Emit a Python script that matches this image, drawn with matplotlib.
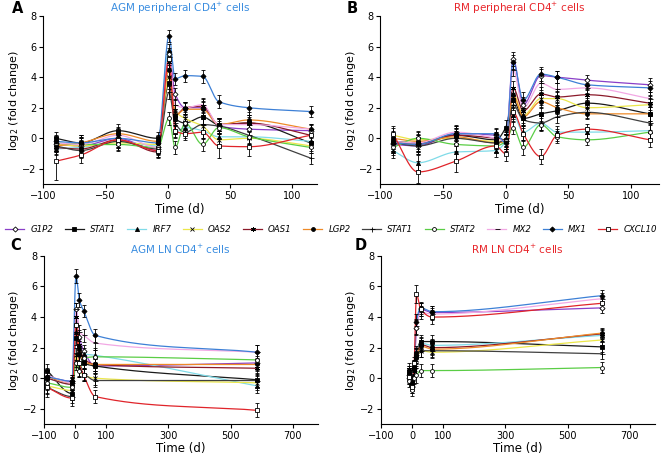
import numpy as np
import matplotlib
matplotlib.use("Agg")
import matplotlib.pyplot as plt
from matplotlib.lines import Line2D

# genes in legend order
genes = ["G1P2", "STAT1", "IRF7", "OAS2", "OAS1", "LGP2", "STAT1", "STAT2", "MX2", "MX1", "CXCL10"]

# panel A: AGM peripheral CD4+ cells
tA = [-90, -70, -40, -8, 1, 6, 14, 28, 41, 65, 115]
A_G1P2 = [-0.4, -0.5, 0.0, -0.8, 5.5, 2.9, 2.0, 2.0, 0.8, 0.6, 0.5]
A_STAT1 = [0.0, -0.3, 0.5, 0.0, 3.6, 1.3, 1.0, 1.4, 0.9, 1.0, -0.3]
A_IRF7 = [-0.7, -0.6, -0.2, -0.5, 5.8, 0.4, 0.7, 0.5, 0.1, 0.1, -0.2]
A_OAS2 = [-0.4, -0.5, -0.3, -0.4, 4.0, 1.8, 1.3, 0.8, -0.1, 0.0, -0.5]
A_OAS1 = [-0.6, -0.7, -0.1, -0.9, 5.0, 1.5, 2.0, 2.1, 0.9, 1.0, 0.2]
A_LGP2 = [-0.5, -0.3, 0.3, -0.2, 4.5, 1.5, 1.9, 1.9, 0.9, 1.2, 0.6]
A_STAT1b = [-0.5, -0.8, -0.2, -0.7, 3.0, 1.0, 0.4, 0.9, 0.8, 0.2, -1.3]
A_STAT2 = [-0.3, -0.4, -0.4, -0.6, 1.3, -0.6, 1.0, -0.4, 0.7, 0.1, -0.6]
A_MX2 = [-0.3, -0.4, 0.2, -0.6, 5.3, 2.2, 2.0, 2.2, 0.9, 0.9, 0.6]
A_MX1 = [-0.2, -0.3, 0.0, -0.3, 6.7, 3.9, 4.1, 4.05, 2.4, 2.0, 1.75]
A_CXCL10 = [-1.5, -1.1, -0.1, -0.8, 5.2, 0.5, 0.3, 0.4, -0.5, -0.55, 0.2]
A_err = [0.4, 0.5, 0.45, 0.4, 0.4, 0.4, 0.4, 0.45, 0.45, 0.5, 0.35]
A_err_CXCL10 = [1.2, 0.5, 0.45, 0.4, 0.4, 0.4, 0.4, 0.45, 0.8, 0.6, 0.35]

# panel B: RM peripheral CD4+ cells
tB = [-90, -70, -40, -8, 0, 6, 14, 28, 41, 65, 115]
B_G1P2 = [-0.4, -0.5, 0.3, 0.2, -0.2, 5.2, 2.2, 4.1, 4.0, 3.8, 3.5]
B_STAT1 = [-0.2, -0.3, 0.2, -0.1, 0.7, 2.5, 1.3, 1.6, 1.8, 2.3, 1.6]
B_IRF7 = [-0.8, -1.6, -0.9, -0.8, -0.2, 1.5, 0.4, 1.0, 0.4, 0.4, 0.5]
B_OAS2 = [0.2, -0.1, 0.0, -0.2, -0.1, 2.9, 1.5, 2.6, 2.6, 2.0, 2.2]
B_OAS1 = [-0.3, -0.4, 0.2, 0.0, -0.1, 3.3, 1.8, 2.9, 2.7, 2.85, 2.3]
B_LGP2 = [0.0, -0.2, 0.1, -0.3, -0.2, 2.8, 1.4, 2.4, 2.0, 1.6, 1.6]
B_STAT1b = [-0.3, -0.5, 0.0, -0.3, 0.0, 2.2, 1.2, 1.0, 1.4, 1.7, 1.0]
B_STAT2 = [-0.6, 0.0, -0.4, -0.5, -0.2, 0.7, -0.6, 0.9, 0.1, -0.1, 0.4]
B_MX2 = [-0.2, -0.3, 0.4, 0.0, -0.2, 4.5, 2.0, 3.6, 3.2, 3.3, 2.6]
B_MX1 = [-0.3, -0.4, 0.3, 0.3, -0.3, 5.0, 2.5, 4.2, 4.0, 3.5, 3.3]
B_CXCL10 = [0.3, -2.2, -1.5, -0.5, -1.0, 1.7, 0.3, -1.2, 0.2, 0.6, -0.1]
B_err = [0.5, 0.5, 0.5, 0.4, 0.5, 0.45, 0.5, 0.45, 0.4, 0.35, 0.45]
B_err_CXCL10 = [0.5, 0.7, 0.7, 0.4, 0.5, 0.45, 0.5, 0.5, 0.4, 0.35, 0.45]

# panel C: AGM LN CD4+ cells
tC = [-90, -10, 3, 14, 28, 65, 585]
C_G1P2 = [0.1, -0.2, 4.5, 2.7, 1.8, 0.8, 1.0]
C_STAT1 = [0.5, -1.0, 2.6, 1.6, 1.0, 0.8, -0.1]
C_IRF7 = [0.0, -0.4, 3.0, 2.0, 1.6, 1.5, -0.5]
C_OAS2 = [-0.5, -0.8, 1.5, 0.6, 0.2, 0.0, -0.3]
C_OAS1 = [0.0, -0.4, 4.0, 2.2, 1.3, 0.9, 0.65]
C_LGP2 = [0.1, -0.3, 3.5, 2.0, 1.1, 0.9, 0.9]
C_STAT1b = [-0.6, -1.2, 1.2, 0.5, 0.3, -0.15, -0.15]
C_STAT2 = [-0.3, -0.6, 1.0, 0.5, 1.3, 1.4, 1.2]
C_MX2 = [0.2, -0.3, 4.5, 3.0, 2.8, 2.3, 1.7]
C_MX1 = [0.1, -0.2, 6.7, 5.1, 4.4, 2.8, 1.7]
C_CXCL10 = [-0.6, -1.3, 3.5, 1.0, 0.2, -1.2, -2.1]
C_err = [0.45, 0.4, 0.45, 0.45, 0.4, 0.45, 0.45]
C_err_CXCL10 = [0.6, 0.5, 0.45, 0.45, 0.4, 0.45, 0.45]

# panel D: RM LN CD4+ cells
tD = [-10, 0, 7, 14, 28, 65, 610]
D_G1P2 = [0.0, -0.5, 0.6, 3.3, 4.5, 4.3, 4.6]
D_STAT1 = [0.4, -0.2, 0.6, 1.6, 2.4, 2.4, 2.05]
D_IRF7 = [0.2, -0.4, 0.8, 1.5, 2.3, 2.15, 2.8]
D_OAS2 = [0.4, -0.5, 0.5, 1.2, 1.8, 1.7, 2.5]
D_OAS1 = [0.6, -0.3, 0.7, 1.4, 2.2, 2.0, 2.9]
D_LGP2 = [0.3, -0.4, 0.6, 1.3, 2.1, 1.9, 2.95]
D_STAT1b = [0.0, -0.6, 0.5, 1.5, 1.8, 1.8, 1.6]
D_STAT2 = [-0.2, -0.8, 0.0, 0.2, 0.5, 0.5, 0.7]
D_MX2 = [0.3, -0.2, 0.7, 3.4, 4.3, 4.2, 5.2]
D_MX1 = [0.2, -0.3, 0.8, 3.7, 4.6, 4.35, 5.4]
D_CXCL10 = [0.1, -0.6, 1.0, 5.5, 4.5, 4.0, 4.9]
D_err = [0.4, 0.35, 0.4, 0.5, 0.4, 0.4, 0.35]
D_err_CXCL10 = [0.4, 0.35, 0.4, 0.6, 0.4, 0.45, 0.35]

colors = ["#8a3fc8", "#1a1a1a", "#80dbe8", "#ece74a", "#8b1a2a", "#ee8a28",
          "#404040", "#5acd45", "#f2a8e4", "#3d80d6", "#e0242a"]
markers = ["D", "s", "^", "x", (6, 2, 0), "o", "+", "o", "_", "D", "s"]
open_mk = [True, False, False, False, False, False, False, True, False, False, True]
msizes = [2.6, 3.0, 3.0, 3.0, 3.6, 2.8, 3.6, 2.8, 3.6, 2.6, 3.0]


def pchip(x, y, n=400):
    # monotone cubic hermite, keeps the curves smooth without big overshoot
    x = np.asarray(x, float)
    y = np.asarray(y, float)
    h = np.diff(x)
    d = np.diff(y) / h
    m = np.zeros_like(y)
    for k in range(1, len(x) - 1):
        if d[k - 1] * d[k] > 0:
            w1 = 2 * h[k] + h[k - 1]
            w2 = h[k] + 2 * h[k - 1]
            m[k] = (w1 + w2) / (w1 / d[k - 1] + w2 / d[k])
    m[0] = d[0]
    m[-1] = d[-1]
    xs = np.linspace(x[0], x[-1], n)
    idx = np.clip(np.searchsorted(x, xs) - 1, 0, len(x) - 2)
    tt = (xs - x[idx]) / h[idx]
    h00 = 2 * tt**3 - 3 * tt**2 + 1
    h10 = tt**3 - 2 * tt**2 + tt
    h01 = -2 * tt**3 + 3 * tt**2
    h11 = tt**3 - tt**2
    ys = h00 * y[idx] + h10 * h[idx] * m[idx] + h01 * y[idx + 1] + h11 * h[idx] * m[idx + 1]
    return xs, ys


def draw_panel(ax, t, series, err, err_red, title, tcolor, xlim, xticks):
    for i, vals in enumerate(series):
        xs, ys = pchip(t, vals)
        ax.plot(xs, ys, color=colors[i], lw=0.9, zorder=2 + i * 0.01)
    for i, vals in enumerate(series):
        e = err_red if genes[i] == "CXCL10" else err
        ax.errorbar(t, vals, yerr=e, fmt="none", ecolor="black", elinewidth=0.6,
                    capsize=1.5, capthick=0.6, zorder=3)
        ax.plot(t, vals, ls="none", marker=markers[i], ms=msizes[i],
                mfc="white" if open_mk[i] else "black", mec="black", mew=0.6, zorder=4)
    ax.set_xlim(*xlim)
    ax.set_ylim(-3, 8)
    ax.set_xticks(xticks)
    ax.set_yticks([-2, 0, 2, 4, 6, 8])
    ax.spines["top"].set_visible(False)
    ax.spines["right"].set_visible(False)
    ax.tick_params(labelsize=7, length=3, width=0.8, pad=2)
    ax.set_xlabel("Time (d)", fontsize=8.5, labelpad=1)
    ax.set_ylabel("log$_2$ (fold change)", fontsize=8, labelpad=1)
    ax.set_title(title, color=tcolor, fontsize=7.5, pad=1.5)


fig = plt.figure(figsize=(6.66, 4.57), dpi=100)
axA = fig.add_axes([0.065, 0.597, 0.411, 0.368])
axB = fig.add_axes([0.571, 0.597, 0.418, 0.368])
axC = fig.add_axes([0.066, 0.072, 0.411, 0.368])
axD = fig.add_axes([0.572, 0.072, 0.411, 0.368])

blue_t = "#3a8de0"
red_t = "#e8262b"
draw_panel(axA, tA, [A_G1P2, A_STAT1, A_IRF7, A_OAS2, A_OAS1, A_LGP2, A_STAT1b, A_STAT2, A_MX2, A_MX1, A_CXCL10],
           A_err, A_err_CXCL10, "AGM peripheral CD4$^{+}$ cells", blue_t, (-100, 120), [-100, -50, 0, 50, 100])
draw_panel(axB, tB, [B_G1P2, B_STAT1, B_IRF7, B_OAS2, B_OAS1, B_LGP2, B_STAT1b, B_STAT2, B_MX2, B_MX1, B_CXCL10],
           B_err, B_err_CXCL10, "RM peripheral CD4$^{+}$ cells", red_t, (-100, 122), [-100, -50, 0, 50, 100])
draw_panel(axC, tC, [C_G1P2, C_STAT1, C_IRF7, C_OAS2, C_OAS1, C_LGP2, C_STAT1b, C_STAT2, C_MX2, C_MX1, C_CXCL10],
           C_err, C_err_CXCL10, "AGM LN CD4$^{+}$ cells", blue_t, (-100, 780), [-100, 0, 100, 300, 500, 700])
draw_panel(axD, tD, [D_G1P2, D_STAT1, D_IRF7, D_OAS2, D_OAS1, D_LGP2, D_STAT1b, D_STAT2, D_MX2, D_MX1, D_CXCL10],
           D_err, D_err_CXCL10, "RM LN CD4$^{+}$ cells", red_t, (-100, 780), [-100, 0, 100, 300, 500, 700])

for letter, x, y in [("A", 0.018, 0.982), ("B", 0.52, 0.982), ("C", 0.016, 0.462), ("D", 0.532, 0.462)]:
    fig.text(x, y, letter, fontsize=10.5, fontweight="bold", va="center", ha="left")

handles = []
for i, g in enumerate(genes):
    handles.append(Line2D([0], [0], color=colors[i], lw=0.9, marker=markers[i], ms=msizes[i],
                          mfc="white" if open_mk[i] else "black", mec="black", mew=0.6))
fig.legend(handles, genes, loc="center", bbox_to_anchor=(0.497, 0.497), ncol=11, frameon=False,
           prop={"size": 6.2, "style": "italic"}, handlelength=2.2, handletextpad=0.7,
           columnspacing=1.35, borderpad=0.2)

fig.savefig("out.png", dpi=100)
